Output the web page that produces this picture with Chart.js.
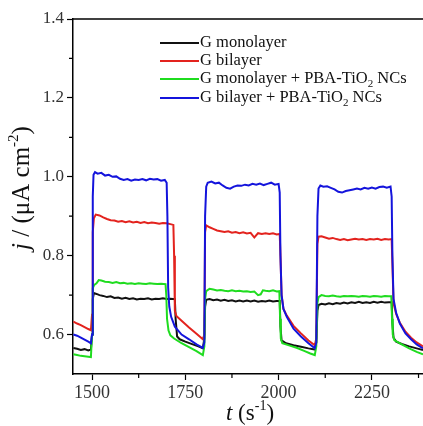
<!DOCTYPE html>
<html>
<head>
<meta charset="utf-8">
<script src="https://cdn.jsdelivr.net/npm/chart.js@4.4.0/dist/chart.umd.min.js"></script>
<style>
  html, body { margin: 0; padding: 0; background: #fff; }
  #wrap { width: 423px; height: 426px; }
</style>
</head>
<body>
<div id="wrap"><canvas id="photoChart"></canvas></div>
<script>
// photocurrent traces, t in s, j in uA cm-2
const blackT = [1450, 1460, 1470, 1480, 1490, 1497, 1500, 1502, 1505, 1512, 1520, 1530, 1540, 1550, 1560, 1570, 1580, 1590, 1600, 1610, 1620, 1630, 1640, 1650, 1660, 1670, 1680, 1690, 1700, 1710, 1722, 1724, 1728, 1735, 1750, 1770, 1785, 1797, 1801, 1803, 1806, 1815, 1825, 1835, 1845, 1855, 1865, 1875, 1885, 1895, 1905, 1915, 1925, 1935, 1945, 1955, 1965, 1975, 1985, 1995, 2003, 2005, 2008, 2020, 2040, 2060, 2080, 2097, 2101, 2104, 2107, 2115, 2125, 2135, 2145, 2155, 2165, 2175, 2185, 2195, 2205, 2215, 2225, 2235, 2245, 2255, 2265, 2275, 2285, 2295, 2303, 2305, 2308, 2315, 2330, 2350, 2370, 2387];
const blackJ = [0.566, 0.564, 0.561, 0.563, 0.560, 0.562, 0.60, 0.69, 0.705, 0.703, 0.700, 0.698, 0.695, 0.697, 0.693, 0.694, 0.691, 0.693, 0.690, 0.692, 0.689, 0.691, 0.690, 0.692, 0.689, 0.691, 0.690, 0.692, 0.690, 0.691, 0.690, 0.64, 0.595, 0.588, 0.582, 0.575, 0.570, 0.565, 0.59, 0.67, 0.688, 0.690, 0.687, 0.689, 0.686, 0.688, 0.685, 0.687, 0.684, 0.686, 0.684, 0.686, 0.684, 0.686, 0.683, 0.685, 0.684, 0.686, 0.684, 0.685, 0.685, 0.62, 0.585, 0.578, 0.573, 0.569, 0.565, 0.562, 0.58, 0.66, 0.675, 0.678, 0.676, 0.679, 0.677, 0.680, 0.678, 0.681, 0.679, 0.682, 0.680, 0.683, 0.680, 0.682, 0.680, 0.683, 0.681, 0.683, 0.681, 0.682, 0.682, 0.63, 0.592, 0.582, 0.576, 0.570, 0.565, 0.561];

const redT = [1450, 1460, 1470, 1480, 1490, 1497, 1500, 1502, 1505, 1510, 1520, 1530, 1540, 1550, 1560, 1570, 1580, 1590, 1600, 1610, 1620, 1630, 1640, 1650, 1660, 1670, 1680, 1690, 1700, 1710, 1718, 1720, 1722, 1726, 1740, 1760, 1780, 1797, 1801, 1803, 1806, 1815, 1825, 1835, 1845, 1855, 1865, 1875, 1885, 1895, 1905, 1915, 1925, 1935, 1945, 1955, 1965, 1975, 1985, 1995, 2003, 2005, 2008, 2013, 2022, 2040, 2060, 2080, 2097, 2101, 2104, 2107, 2115, 2125, 2135, 2145, 2155, 2165, 2175, 2185, 2195, 2205, 2215, 2225, 2235, 2245, 2255, 2265, 2275, 2285, 2295, 2303, 2305, 2308, 2315, 2325, 2340, 2355, 2370, 2387];
const redJ = [0.633, 0.628, 0.624, 0.619, 0.614, 0.611, 0.65, 0.86, 0.895, 0.904, 0.902, 0.897, 0.893, 0.890, 0.889, 0.886, 0.888, 0.885, 0.887, 0.884, 0.886, 0.883, 0.885, 0.882, 0.884, 0.883, 0.881, 0.883, 0.882, 0.880, 0.878, 0.80, 0.66, 0.647, 0.635, 0.618, 0.602, 0.588, 0.60, 0.86, 0.877, 0.872, 0.868, 0.864, 0.862, 0.860, 0.862, 0.858, 0.860, 0.857, 0.859, 0.856, 0.858, 0.846, 0.857, 0.855, 0.857, 0.855, 0.857, 0.854, 0.855, 0.80, 0.70, 0.665, 0.648, 0.622, 0.603, 0.585, 0.573, 0.59, 0.83, 0.848, 0.849, 0.846, 0.843, 0.845, 0.842, 0.840, 0.842, 0.839, 0.841, 0.843, 0.841, 0.842, 0.840, 0.842, 0.841, 0.843, 0.840, 0.842, 0.841, 0.842, 0.78, 0.68, 0.652, 0.630, 0.607, 0.592, 0.580, 0.570];

const greenT = [1450, 1460, 1470, 1480, 1490, 1497, 1500, 1502, 1506, 1512, 1518, 1525, 1535, 1545, 1555, 1565, 1575, 1585, 1595, 1605, 1615, 1625, 1635, 1645, 1655, 1665, 1675, 1685, 1697, 1699, 1701, 1705, 1710, 1720, 1740, 1760, 1780, 1797, 1801, 1803, 1806, 1815, 1825, 1835, 1845, 1855, 1865, 1875, 1885, 1895, 1905, 1915, 1925, 1935, 1945, 1952, 1958, 1965, 1975, 1985, 1995, 2002, 2004, 2006, 2010, 2030, 2050, 2070, 2085, 2097, 2101, 2104, 2107, 2115, 2125, 2135, 2145, 2155, 2165, 2175, 2185, 2195, 2205, 2215, 2225, 2235, 2245, 2255, 2265, 2275, 2285, 2295, 2302, 2304, 2306, 2310, 2330, 2350, 2370, 2387];
const greenJ = [0.550, 0.548, 0.546, 0.545, 0.544, 0.543, 0.60, 0.718, 0.726, 0.730, 0.738, 0.737, 0.734, 0.733, 0.731, 0.733, 0.730, 0.731, 0.729, 0.730, 0.728, 0.730, 0.729, 0.728, 0.730, 0.729, 0.728, 0.729, 0.728, 0.70, 0.64, 0.61, 0.598, 0.590, 0.578, 0.568, 0.558, 0.548, 0.57, 0.69, 0.71, 0.716, 0.714, 0.712, 0.713, 0.711, 0.710, 0.712, 0.710, 0.711, 0.709, 0.710, 0.708, 0.709, 0.700, 0.702, 0.712, 0.711, 0.710, 0.712, 0.709, 0.71, 0.64, 0.59, 0.578, 0.572, 0.566, 0.558, 0.552, 0.548, 0.57, 0.68, 0.695, 0.700, 0.698, 0.697, 0.699, 0.697, 0.696, 0.698, 0.697, 0.698, 0.697, 0.696, 0.698, 0.697, 0.696, 0.698, 0.697, 0.696, 0.698, 0.697, 0.697, 0.64, 0.60, 0.586, 0.575, 0.565, 0.556, 0.550];

const blueT = [1450, 1460, 1470, 1480, 1490, 1497, 1500, 1502, 1504, 1508, 1515, 1525, 1535, 1545, 1555, 1565, 1575, 1585, 1595, 1605, 1615, 1625, 1635, 1645, 1655, 1665, 1675, 1685, 1695, 1700, 1702, 1704, 1707, 1712, 1722, 1740, 1760, 1780, 1797, 1801, 1803, 1806, 1810, 1820, 1830, 1840, 1850, 1860, 1870, 1880, 1890, 1900, 1910, 1920, 1930, 1940, 1950, 1960, 1970, 1980, 1990, 2000, 2003, 2005, 2008, 2013, 2022, 2040, 2060, 2080, 2097, 2101, 2104, 2107, 2112, 2120, 2130, 2140, 2150, 2160, 2170, 2180, 2190, 2200, 2210, 2220, 2230, 2240, 2250, 2260, 2270, 2280, 2290, 2300, 2303, 2305, 2308, 2315, 2325, 2340, 2355, 2370, 2387];
const blueJ = [0.600, 0.597, 0.592, 0.587, 0.582, 0.578, 0.60, 0.95, 1.005, 1.012, 1.008, 1.010, 1.003, 1.005, 1.000, 1.001, 0.995, 0.992, 0.994, 0.990, 0.993, 0.992, 0.994, 0.991, 0.995, 0.993, 0.994, 0.990, 0.992, 0.985, 0.90, 0.72, 0.671, 0.645, 0.620, 0.600, 0.588, 0.575, 0.566, 0.58, 0.90, 0.975, 0.985, 0.988, 0.983, 0.985, 0.978, 0.972, 0.970, 0.975, 0.978, 0.977, 0.980, 0.978, 0.982, 0.980, 0.983, 0.979, 0.982, 0.985, 0.980, 0.982, 0.96, 0.80, 0.70, 0.665, 0.645, 0.615, 0.595, 0.578, 0.565, 0.58, 0.90, 0.97, 0.978, 0.975, 0.976, 0.972, 0.968, 0.962, 0.960, 0.964, 0.966, 0.968, 0.970, 0.968, 0.972, 0.970, 0.973, 0.970, 0.974, 0.975, 0.972, 0.975, 0.95, 0.80, 0.69, 0.655, 0.628, 0.603, 0.588, 0.575, 0.565];

const seriesLabels = ['G monolayer', 'G bilayer', 'G monolayer + PBA-TiO\u2082 NCs', 'G bilayer + PBA-TiO\u2082 NCs'];
const seriesColors = ['#111111', '#e3231e', '#1fdc1f', '#1414dc'];

const xMajorTicks = [1500, 1750, 2000, 2250];
const xMinorTicks = [1625, 1875, 2125, 2375];
const yMajorTicks = [0.6, 0.8, 1.0, 1.2, 1.4];
const yMinorTicks = [0.7, 0.9, 1.1, 1.3];

const serif = "'Liberation Serif', 'Times New Roman', serif";

const toPoints = (ts, js) => ts.map((t, i) => ({ x: t, y: js[i] }));
const allT = [blackT, redT, greenT, blueT];
const allJ = [blackJ, redJ, greenJ, blueJ];

const datasets = [];
for (let i = 0; i < 4; i++) {
    datasets.push({
        label: seriesLabels[i],
        data: toPoints(allT[i], allJ[i]),
        borderColor: seriesColors[i],
        borderWidth: 2,
        pointRadius: 0,
        tension: 0,
        order: 3 - i // blue drawn on top
    });
}

// draws a run of text pieces, each {t, font, dy}
const drawPieces = (ctx, pieces, x, y) => {
    let cx = x;
    pieces.forEach(p => {
        ctx.font = p.font;
        ctx.fillText(p.t, cx, y + (p.dy || 0));
        cx += ctx.measureText(p.t).width;
    });
    return cx;
}
const piecesWidth = (ctx, pieces) => {
    let w = 0;
    pieces.forEach(p => {
        ctx.font = p.font;
        w += ctx.measureText(p.t).width;
    });
    return w;
}

const framePlugin = {
    id: 'frame',
    afterDraw(chart) {
        const ctx = chart.ctx;
        const area = chart.chartArea;
        const xs = chart.scales.x;
        const ys = chart.scales.y;
        ctx.save();
        ctx.strokeStyle = '#000';
        ctx.lineWidth = 1.5;
        ctx.beginPath();
        ctx.moveTo(area.left, area.top);
        ctx.lineTo(area.right, area.top);
        ctx.stroke();
        // minor ticks
        ctx.lineWidth = 1.2;
        ctx.beginPath();
        xMinorTicks.forEach(v => {
            const px = xs.getPixelForValue(v);
            ctx.moveTo(px, area.bottom);
            ctx.lineTo(px, area.bottom + 4);
        });
        yMinorTicks.forEach(v => {
            const py = ys.getPixelForValue(v);
            ctx.moveTo(area.left, py);
            ctx.lineTo(area.left - 4, py);
        });
        ctx.stroke();

        // legend
        ctx.textBaseline = 'middle';
        ctx.fillStyle = '#111';
        const rowY = [43, 61, 79, 98];
        seriesLabels.forEach((lab, i) => {
            ctx.strokeStyle = seriesColors[i];
            ctx.lineWidth = 2;
            ctx.beginPath();
            ctx.moveTo(160, rowY[i]);
            ctx.lineTo(199, rowY[i]);
            ctx.stroke();
            const parts = lab.split('\u2082');
            const pieces = [{ t: parts[0], font: '16.5px ' + serif }];
            if (parts.length > 1) {
                pieces.push({ t: '2', font: '11px ' + serif, dy: 5 });
                pieces.push({ t: parts[1], font: '16.5px ' + serif });
            }
            drawPieces(ctx, pieces, 200, rowY[i]);
        });

        // axis titles
        ctx.fillStyle = '#111';
        ctx.textBaseline = 'alphabetic';
        const xTitle = [
            { t: 't', font: 'italic 23px ' + serif },
            { t: ' (s', font: '23px ' + serif },
            { t: '-1', font: '14px ' + serif, dy: -10 },
            { t: ')', font: '23px ' + serif }
        ];
        const xw = piecesWidth(ctx, xTitle);
        drawPieces(ctx, xTitle, (area.left + area.right) / 2 - xw / 2 + 2, 420);

        const yTitle = [
            { t: 'j', font: 'italic 25px ' + serif },
            { t: ' / (\u03bcA cm', font: '25px ' + serif },
            { t: '-2', font: '15px ' + serif, dy: -11 },
            { t: ')', font: '25px ' + serif }
        ];
        const yw = piecesWidth(ctx, yTitle);
        ctx.translate(29, 188);
        ctx.rotate(-Math.PI / 2);
        drawPieces(ctx, yTitle, -yw / 2, 0);
        ctx.restore();
    }
};

new Chart(document.getElementById('photoChart'), {
    type: 'line',
    data: { datasets: datasets },
    options: {
        responsive: true,
        maintainAspectRatio: false,
        animation: false,
        layout: { padding: { top: 19, right: 0, left: 0, bottom: 0 } },
        plugins: {
            legend: { display: false },
            tooltip: { enabled: false }
        },
        scales: {
            x: {
                type: 'linear',
                min: 1449,
                max: 2387,
                afterBuildTicks: (scale) => { scale.ticks = xMajorTicks.map(v => ({ value: v })); },
                afterFit: (scale) => { scale.height = 52; },
                border: { display: true, color: '#000', width: 1.5 },
                grid: { display: true, drawOnChartArea: false, drawTicks: true, tickLength: 6, color: '#000', tickWidth: 1.2 },
                ticks: {
                    autoSkip: false,
                    maxRotation: 0,
                    padding: 2,
                    color: '#333',
                    font: { family: serif, size: 18 },
                    callback: (v) => String(v)
                }
            },
            y: {
                min: 0.5,
                max: 1.4,
                afterBuildTicks: (scale) => { scale.ticks = yMajorTicks.map(v => ({ value: v })); },
                afterFit: (scale) => { scale.width = 73; },
                border: { display: true, color: '#000', width: 1.5 },
                grid: { display: true, drawOnChartArea: false, drawTicks: true, tickLength: 6, color: '#000', tickWidth: 1.2 },
                ticks: {
                    autoSkip: false,
                    padding: 3,
                    color: '#333',
                    font: { family: serif, size: 17 },
                    callback: (v) => v.toFixed(1)
                }
            }
        }
    },
    plugins: [framePlugin]
});
</script>
</body>
</html>
